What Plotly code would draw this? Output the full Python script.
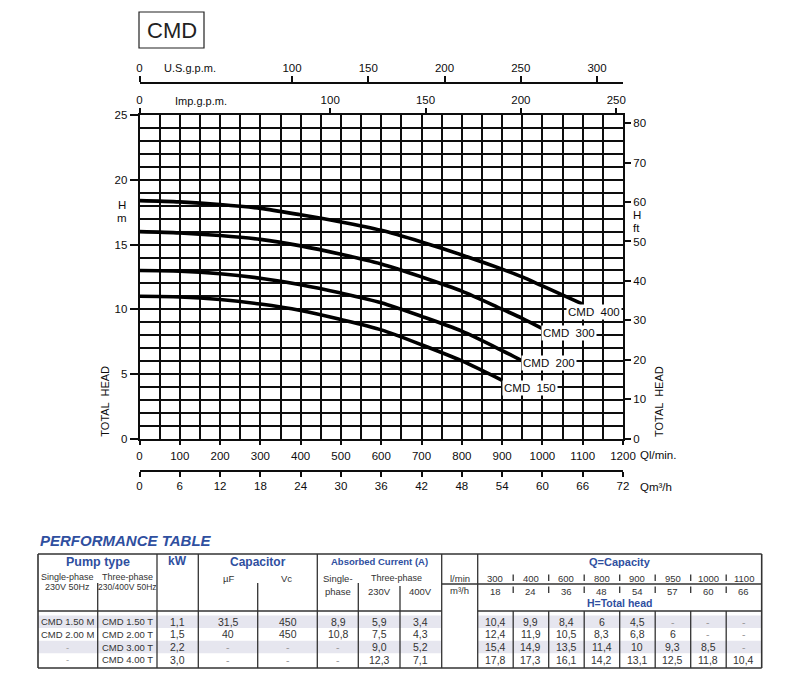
import plotly.graph_objects as go

# ---------------- data ----------------
# pump curves: flow (l/min) and total head (m) read from the chart / table
q_150 = [0, 100, 200, 300, 400, 500, 600, 700, 800, 900]
h_150 = [11.0, 10.95, 10.75, 10.4, 9.9, 9.2, 8.4, 7.25, 6.0, 4.5]
q_200 = [0, 100, 200, 300, 400, 500, 600, 700, 800, 900, 950]
h_200 = [13.0, 12.95, 12.75, 12.4, 11.9, 11.25, 10.5, 9.45, 8.3, 6.8, 6.0]
q_300 = [0, 100, 200, 300, 400, 500, 600, 700, 800, 900, 950, 1000]
h_300 = [16.0, 15.9, 15.7, 15.4, 14.9, 14.25, 13.5, 12.5, 11.4, 10.0, 9.3, 8.5]
q_400 = [0, 100, 200, 300, 400, 500, 600, 700, 800, 900, 950, 1000, 1100]
h_400 = [18.4, 18.3, 18.1, 17.8, 17.3, 16.75, 16.1, 15.2, 14.2, 13.1, 12.5, 11.8, 10.4]
curve_names = ["CMD  150", "CMD  200", "CMD  300", "CMD  400"]

# axis tick labels
us_ticks = [0, 100, 150, 200, 250, 300]
imp_ticks = [0, 100, 150, 200, 250]

# performance table
pump_single = ["CMD 1.50 M", "CMD 2.00 M", "-", "-"]
pump_three = ["CMD 1.50 T", "CMD 2.00 T", "CMD 3.00 T", "CMD 4.00 T"]
kw = [1.1, 1.5, 2.2, 3.0]
cap_uf = [31.5, 40, None, None]
cap_vc = [450, 450, None, None]
cur_single = [8.9, 10.8, None, None]
cur_230 = [5.9, 7.5, 9.0, 12.3]
cur_400 = [3.4, 4.3, 5.2, 7.1]
cap_lmin = [300, 400, 600, 800, 900, 950, 1000, 1100]
cap_m3h = [18, 24, 36, 48, 54, 57, 60, 66]
head_rows = [
    [10.4, 9.9, 8.4, 6, 4.5, None, None, None],
    [12.4, 11.9, 10.5, 8.3, 6.8, 6, None, None],
    [15.4, 14.9, 13.5, 11.4, 10, 9.3, 8.5, None],
    [17.8, 17.3, 16.1, 14.2, 13.1, 12.5, 11.8, 10.4],
]

# ---------------- style / geometry ----------------
W, H = 800, 694
FONT = "Liberation Sans, Arial, sans-serif"
FONT_B = "Liberation Sans, Arial, sans-serif"
INK = "#0d0d0d"
BLUE = "#2f4f9f"
TXT = "#333333"
US_L = 3.785     # litres per US gallon
IMP_L = 4.733    # litres per Imp gallon as drawn on the chart


def px(x):
    return x / W


def py(y):
    return 1 - y / H


X0, X1 = 139.5, 623.0
YB, YT = 438.5, 115.3
GW = 1.7

fig = go.Figure()

curves = [(q_150, h_150), (q_200, h_200), (q_300, h_300), (q_400, h_400)]
for (q, h), name in zip(curves, curve_names):
    fig.add_trace(go.Scatter(x=q, y=h, mode="lines", name=name,
                             line=dict(color="black", width=3.6, shape="spline", smoothing=0.8),
                             showlegend=False, hoverinfo="skip"))

# dummy traces so overlay axes are drawn
for xa, ya in [("x2", "y"), ("x3", "y"), ("x4", "y"), ("x", "y2")]:
    fig.add_trace(go.Scatter(x=[None], y=[None], xaxis=xa, yaxis=ya,
                             showlegend=False, hoverinfo="skip"))

tickfont = dict(family=FONT, size=11.5, color=INK)
base = dict(zeroline=False, tickfont=tickfont, tickcolor=INK, tickwidth=1.5,
            linecolor=INK, linewidth=1.7, fixedrange=True, automargin=False)

fig.update_layout(
    width=W, height=H, autosize=False,
    margin=dict(l=0, r=0, t=0, b=0),
    paper_bgcolor="white", plot_bgcolor="white",
    xaxis=dict(domain=[px(X0), px(X1)], range=[0, 1200], tick0=0, dtick=100,
               ticks="outside", ticklen=5, showgrid=True, gridcolor=INK, gridwidth=GW,
               minor=dict(dtick=50, showgrid=True, gridcolor=INK, gridwidth=GW),
               showline=True, mirror=True, anchor="y", ticklabelstandoff=1, **base),
    yaxis=dict(domain=[py(YB), py(YT)], range=[0, 25], tick0=0, dtick=5,
               ticks="outside", ticklen=8, showgrid=True, gridcolor=INK, gridwidth=GW,
               minor=dict(dtick=1, showgrid=True, gridcolor=INK, gridwidth=GW),
               showline=True, mirror=True, anchor="x", **base),
    yaxis2=dict(overlaying="y", side="right", anchor="x", range=[0, 25 / 0.3048],
                tick0=0, dtick=10, ticks="outside", ticklen=7, showgrid=False,
                showline=False, **base),
    xaxis2=dict(overlaying="x", side="top", anchor="y", range=[0, 1200 / IMP_L],
                tickvals=imp_ticks, ticks="outside", ticklen=6, showgrid=False,
                showline=False, **base),
    xaxis3=dict(overlaying="x", side="top", anchor="free", position=py(83),
                range=[0, 1200 / US_L], tickvals=us_ticks, ticks="outside", ticklen=6,
                showgrid=False, showline=True, **base),
    xaxis4=dict(overlaying="x", side="bottom", anchor="free", position=py(470.7),
                range=[0, 72], tick0=0, dtick=6, ticks="outside", ticklen=5,
                showgrid=False, showline=True, **base),
)

ann = []
shapes = []


def text(x, y, s, size=12, color=INK, family=FONT, xanchor="center", **kw_):
    ann.append(dict(x=px(x), y=py(y), xref="paper", yref="paper", text=s, showarrow=False,
                    xanchor=xanchor, yanchor="middle",
                    font=dict(family=family, size=size, color=color), **kw_))


# chart labels
text(189.5, 67.7, "U.S.g.p.m.", 11)
text(201, 100.5, "Imp.g.p.m.", 11)
text(122.3, 205, "H", 11.5)
text(122.3, 217.5, "m", 11.5)
text(636.7, 215.5, "H", 11.5)
text(636.7, 227.5, "ft", 11.5)
text(105, 401.7, "TOTAL  HEAD", 11, textangle=-90)
text(658.3, 401.7, "TOTAL  HEAD", 11, textangle=-90)
text(637.5, 455, "Ql/min.", 11.5, xanchor="left")
text(637.5, 487.2, "Qm³/h", 11.5, xanchor="left")

# title box
shapes.append(dict(type="rect", xref="paper", yref="paper", x0=px(139), x1=px(204),
                   y0=py(48), y1=py(12), line=dict(color="#222", width=1.2)))
text(171.5, 30.5, "CMD", 22, color="#222")

# curve labels (data coordinates)
label_pos = [(970, 3.88), (1016, 5.86), (1065, 8.18), (1128, 9.76)]
for (lx, ly), name in zip(label_pos, curve_names):
    ann.append(dict(x=lx, y=ly, xref="x", yref="y", text=name, showarrow=False,
                    xanchor="center", yanchor="middle", bgcolor="white", borderpad=1,
                    font=dict(family=FONT, size=11.5, color=INK)))

# ---------------- performance table ----------------
text(38, 540, "PERFORMANCE TABLE", 15, color=BLUE, family=FONT_B, xanchor="left")
ann[-1]["font"].update(weight="bold", style="italic")

T_L, T_R, T_T, T_HB, T_B = 38, 761.7, 554, 611, 668
LC = "#333333"


def hline(y, x0, x1, w=1.3):
    shapes.append(dict(type="line", xref="paper", yref="paper", x0=px(x0), x1=px(x1),
                       y0=py(y), y1=py(y), line=dict(color=LC, width=w)))


def vline(x, y0, y1, w=1.3):
    shapes.append(dict(type="line", xref="paper", yref="paper", x0=px(x), x1=px(x),
                       y0=py(y0), y1=py(y1), line=dict(color=LC, width=w)))


cap_x0, cap_x1 = 477.7, T_R
ncap = len(cap_lmin)
cw = (cap_x1 - cap_x0) / ncap
cap_edges = [cap_x0 + i * cw for i in range(ncap + 1)]
cap_centers = [cap_x0 + (i + 0.5) * cw for i in range(ncap)]

row_top, row_h = 615.5, 12.6
row_centers = [row_top + (i + 0.5) * row_h for i in range(4)]

# row shading
for i in (0, 2):
    for xa, xb in [(T_L, 441.7), (cap_x0, T_R)]:
        shapes.append(dict(type="rect", xref="paper", yref="paper", layer="below",
                           x0=px(xa), x1=px(xb), y0=py(row_top + (i + 1) * row_h),
                           y1=py(row_top + i * row_h), fillcolor="#e6e6ef", line=dict(width=0)))

# borders
hline(T_T, T_L, T_R, 1.6)
hline(T_B, T_L, T_R, 1.6)
vline(T_L, T_T, T_B, 1.6)
vline(T_R, T_T, T_B, 1.6)
hline(T_HB, T_L, 441.7)
hline(T_HB, cap_x0, T_R)
hline(584, 441.7, T_R)
for x in (157, 198.3, 317.3, 441.7, 477.7):
    vline(x, T_T, T_B)
for x in (97.7, 257.7, 358.3):
    vline(x, 583, T_B)
vline(400, 586, T_B)
for x in cap_edges[1:-1]:
    vline(x, T_HB, T_B)
    vline(x, 574.5, 581)
    vline(x, 586.5, 593)

# header texts
hb = dict(color=BLUE, family=FONT_B)
text(97.5, 561.7, "Pump type", 12.5, **hb)
text(177.7, 560.7, "kW", 12, **hb)
text(257.5, 561.7, "Capacitor", 12, **hb)
text(379.5, 561.7, "Absorbed Current (A)", 9.5, **hb)
text(619.7, 561.7, "Q=Capacity", 11, **hb)
text(619.7, 603.3, "H=Total head", 10.5, **hb)
for a in ann[-6:]:
    a["font"]["weight"] = "bold"

SUB = 9.5
text(67.7, 576.7, "Single-phase", 9, color=TXT)
text(67.7, 586.7, "230V 50Hz", 9, color=TXT)
text(127.3, 576.7, "Three-phase", 9, color=TXT)
text(127.3, 586.7, "230/400V 50Hz", 8.5, color=TXT)
text(228.3, 578.3, "µF", SUB, color=TXT)
text(286.7, 578.3, "Vc", SUB, color=TXT)
text(338.3, 578.3, "Single-", SUB, color=TXT)
text(338.3, 591, "phase", SUB, color=TXT)
text(396.7, 578.3, "Three-phase", 9, color=TXT)
text(379.3, 591, "230V", SUB, color=TXT)
text(420.7, 591, "400V", SUB, color=TXT)
text(459.7, 578.3, "l/min", SUB, color=TXT)
text(459.7, 590, "m³/h", SUB, color=TXT)
for cx, ql, qm in zip(cap_centers, cap_lmin, cap_m3h):
    text(cx, 578.3, str(ql), SUB, color=TXT)
    text(cx, 591, str(qm), SUB, color=TXT)


def fmt(v, spec):
    if v is None:
        return "-"
    return format(v, spec).replace(".", ",")


col_specs = [
    (67.7, pump_single, None, 9.5), (127.3, pump_three, None, 9.5), (177.7, kw, ".1f", 10.5),
    (228.3, cap_uf, "g", 10.5), (287.5, cap_vc, "g", 10.5), (338.3, cur_single, ".1f", 10.5),
    (379.3, cur_230, ".1f", 10.5), (420.7, cur_400, ".1f", 10.5),
]
for cx, vals, spec, fs in col_specs:
    for r, v in enumerate(vals):
        s = v if spec is None else fmt(v, spec)
        text(cx, row_centers[r], s, fs, color="#999999" if s == "-" else TXT)
for r, row in enumerate(head_rows):
    for cx, v in zip(cap_centers, row):
        s = fmt(v, "g")
        text(cx, row_centers[r], s, 10.5, color="#999999" if s == "-" else TXT)

fig.update_layout(annotations=ann, shapes=shapes)
fig.write_html("out.html", config={"displayModeBar": False},
               post_script="document.body.style.margin='0px';")
